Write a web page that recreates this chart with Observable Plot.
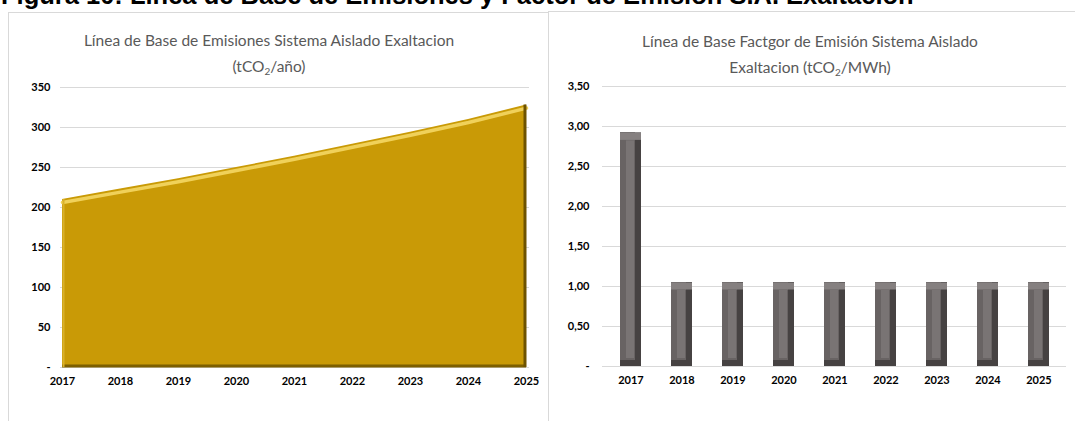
<!DOCTYPE html>
<html>
<head>
<meta charset="utf-8">
<script src="https://cdn.jsdelivr.net/npm/d3@7"></script>
<script src="https://cdn.jsdelivr.net/npm/@observablehq/plot@0.6"></script>
<style>
  html, body { margin: 0; padding: 0; background: #fff; width: 1075px; height: 421px; overflow: hidden; position: relative; }
  .abs { position: absolute; }
  .caption { left: 1px; top: -17px; font-family: "Liberation Sans", Arial, sans-serif; font-weight: bold; font-size: 25.5px; line-height: 25.5px; color: #000; white-space: nowrap; }
  .title { font-family: Lato, "Open Sans", sans-serif; font-size: 15.5px; color: #595959; text-align: center; line-height: 26px; white-space: nowrap; }
  .title sub { font-size: 10px; vertical-align: -3px; line-height: 0; }
  .border { background: #d9d9d9; }
</style>
</head>
<body>
<div class="abs caption">Figura 10: Línea de Base de Emisiones y Factor de Emisión S.A. Exaltación</div>
<div class="abs border" style="left:8px;top:12px;width:541px;height:1px;"></div>
<div class="abs border" style="left:8px;top:12px;width:1px;height:409px;"></div>
<div class="abs border" style="left:548px;top:11px;width:1px;height:410px;"></div>
<div class="abs border" style="left:548px;top:11px;width:527px;height:1px;"></div>
<div id="left" class="abs" style="left:8px;top:12px;"></div>
<div id="right" class="abs" style="left:549px;top:11px;"></div>
<div class="abs title" style="left:69px;width:400px;top:27px;">Línea de Base de Emisiones Sistema Aislado Exaltacion<br>(tCO<sub>2</sub>/año)</div>
<div class="abs title" style="left:610px;width:400px;top:28px;">Línea de Base Factgor de Emisión Sistema Aislado<br>Exaltacion (tCO<sub>2</sub>/MWh)</div>
<script>
const years = ["2017", "2018", "2019", "2020", "2021", "2022", "2023", "2024", "2025"];
const emissions = [210, 223, 236, 250, 264, 279, 294, 310, 328];
const factor = [2.92, 1.05, 1.05, 1.05, 1.05, 1.05, 1.05, 1.05, 1.05];
const emissionTicks = [0, 50, 100, 150, 200, 250, 300, 350];
const factorTicks = [0, 0.5, 1, 1.5, 2, 2.5, 3, 3.5];

const emData = years.map((year, i) => ({year, value: emissions[i]}));
const fData = years.map((year, i) => ({year, value: factor[i]}));

const axisStyle = {background: "transparent", fontFamily: "Lato, 'Open Sans', sans-serif", fontSize: "11px", fontWeight: "bold", color: "#000"};

const left = Plot.plot({
  width: 540, height: 409,
  marginLeft: 54, marginRight: 22, marginTop: 75, marginBottom: 54,
  x: {type: "point", domain: years, padding: 0},
  y: {domain: [0, 350]},
  style: axisStyle,
  marks: [
    Plot.ruleY(emissionTicks, {stroke: "#d9d9d9", strokeWidth: 1, insetLeft: -2, insetRight: -3}),
    Plot.areaY(emData, {x: "year", y: "value", fill: "#c99a06"}),
    Plot.lineY(emData, {x: "year", y: "value", stroke: "#f0d15a", strokeWidth: 3.5, dy: 3}),
    Plot.ruleY([0], {stroke: "#7d5f00", strokeWidth: 3, dy: -1.5}),
    Plot.ruleX(emData.slice(-1), {x: "year", y1: 0, y2: "value", stroke: "#6e5300", strokeWidth: 3, dx: -1.5}),
    Plot.ruleX(emData.slice(0, 1), {x: "year", y1: 0, y2: "value", stroke: "#d9b12a", strokeWidth: 2, dx: 1}),
    Plot.axisY({ticks: emissionTicks, tickSize: 0, tickPadding: 12, tickFormat: d => d === 0 ? "-" : d3.format("d")(d), label: null}),
    Plot.axisX({tickSize: 0, tickPadding: 10, label: null})
  ]
});
document.getElementById("left").appendChild(left);

const fmt = d => d === 0 ? "-" : d3.format(".2f")(d).replace(".", ",");
const right = Plot.plot({
  width: 526, height: 410,
  marginLeft: 53, marginRight: 9, marginTop: 75, marginBottom: 55,
  x: {type: "band", domain: years, paddingInner: 0.59, paddingOuter: 0.295},
  y: {domain: [0, 3.5]},
  style: axisStyle,
  marks: [
    Plot.ruleY(factorTicks, {stroke: "#d9d9d9", strokeWidth: 1}),
    Plot.barY(fData, {x: "year", y: "value", fill: "#464242"}),
    Plot.barY(fData, {x: "year", y: "value", fill: "#686363", insetRight: 6, insetBottom: 6}),
    Plot.tickY(fData, {x: "year", y: "value", stroke: "#858080", strokeWidth: 7, dy: 3.5}),
    Plot.barY(fData, {x: "year", y: "value", fill: "#797474", insetLeft: 6, insetRight: 7, insetTop: 8, insetBottom: 8}),
    Plot.axisY({ticks: factorTicks, tickSize: 0, tickPadding: 13, tickFormat: fmt, label: null}),
    Plot.axisX({tickSize: 0, tickPadding: 10, label: null})
  ]
});
document.getElementById("right").appendChild(right);
</script>
</body>
</html>
